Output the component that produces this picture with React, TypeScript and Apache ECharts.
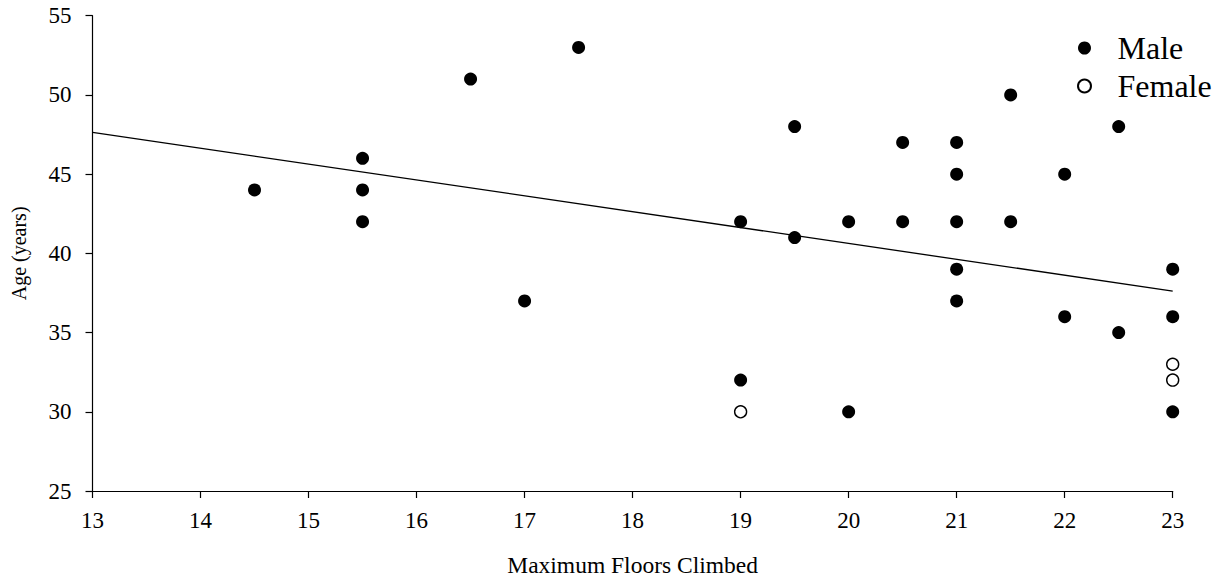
import React, { useEffect, useRef } from "react";
import * as echarts from "echarts";

const maleFloors = [14.5, 15.5, 15.5, 15.5, 16.5, 17, 17.5, 19, 19, 19.5, 19.5, 20, 20, 20.5, 20.5, 21, 21, 21, 21, 21, 21.5, 21.5, 22, 22, 22.5, 22.5, 23, 23, 23];
const maleAge = [44, 46, 44, 42, 51, 37, 53, 42, 32, 48, 41, 42, 30, 47, 42, 47, 45, 42, 39, 37, 50, 42, 45, 36, 48, 35, 39, 36, 30];
const femaleFloors = [19, 23, 23];
const femaleAge = [30, 33, 32];
const fitFloors = [13, 23];
const fitAge = [47.64, 37.62];

const FONT = "'Liberation Serif', 'Times New Roman', serif";

export default function App() {
  const ref = useRef<HTMLDivElement>(null);
  useEffect(() => {
    if (!ref.current) return;
    const chart = echarts.init(ref.current, undefined, { renderer: "svg" });
    chart.setOption({
      animation: false,
      backgroundColor: "#ffffff",
      textStyle: { fontFamily: FONT, color: "#000" },
      grid: { left: 92.5, right: 50.3, top: 15.7, bottom: 89, containLabel: false },
      legend: {
        orient: "vertical",
        left: 1072,
        top: 27,
        itemWidth: 56,
        itemHeight: 13,
        itemGap: 6,
        padding: 5,
        textStyle: { fontFamily: FONT, fontSize: 32, color: "#000", padding: 0 },
        data: ["Male", "Female"],
      },
      xAxis: {
        type: "value",
        min: 13,
        max: 23,
        interval: 1,
        name: "Maximum Floors Climbed",
        nameLocation: "middle",
        nameGap: 62,
        nameTextStyle: { fontFamily: FONT, fontSize: 23.5, color: "#000" },
        axisLine: { show: true, onZero: false, lineStyle: { color: "#000", width: 1.2 } },
        axisTick: { show: true, inside: false, length: 7, lineStyle: { color: "#000", width: 1.2 } },
        axisLabel: { fontFamily: FONT, fontSize: 23, color: "#000", margin: 18 },
        splitLine: { show: false },
      },
      yAxis: {
        type: "value",
        min: 25,
        max: 55,
        interval: 5,
        name: "Age (years)",
        nameLocation: "middle",
        nameGap: 64,
        nameRotate: 90,
        nameTextStyle: { fontFamily: FONT, fontSize: 20, color: "#000" },
        axisLine: { show: true, onZero: false, lineStyle: { color: "#000", width: 1.2 } },
        axisTick: { show: true, inside: false, length: 7, lineStyle: { color: "#000", width: 1.2 } },
        axisLabel: { fontFamily: FONT, fontSize: 23, color: "#000", margin: 21 },
        splitLine: { show: false },
      },
      series: [
        {
          name: "fit",
          type: "line",
          data: fitFloors.map((x, i) => [x, fitAge[i]]),
          showSymbol: false,
          symbol: "none",
          lineStyle: { color: "#000", width: 1.3 },
          z: 1,
          silent: true,
        },
        {
          name: "Male",
          type: "scatter",
          symbol: "circle",
          symbolSize: 13,
          data: maleFloors.map((x, i) => [x, maleAge[i]]),
          itemStyle: { color: "#000", opacity: 1 },
          z: 3,
        },
        {
          name: "Female",
          type: "scatter",
          symbol: "circle",
          symbolSize: 12,
          data: femaleFloors.map((x, i) => [x, femaleAge[i]]),
          itemStyle: { color: "#fff", borderColor: "#000", borderWidth: 1.4, opacity: 1 },
          z: 3,
        },
      ],
    });
    return () => chart.dispose();
  }, []);
  return (
    <div
      ref={ref}
      style={{ position: "absolute", left: 0, top: 0, width: 1223, height: 582 }}
    />
  );
}
